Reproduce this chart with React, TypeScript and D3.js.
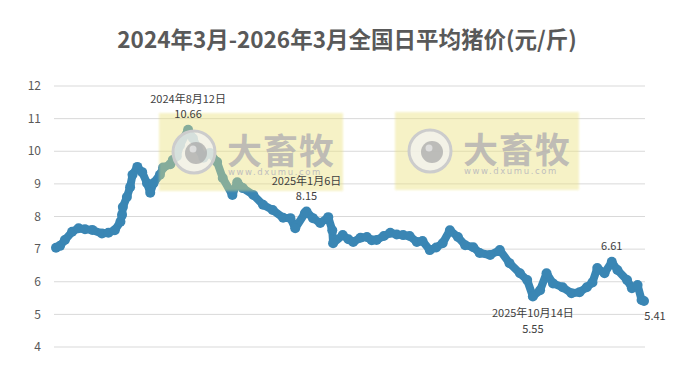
import React from "react";
import { scaleTime, scaleLinear, line, curveLinear, timeParse } from "d3";

// daily average hog price (yuan / jin)
const dates = [
  "2024-03-01", "2024-03-06", "2024-03-12", "2024-03-21", "2024-03-29", "2024-04-06",
  "2024-04-15", "2024-04-27", "2024-05-05", "2024-05-13", "2024-05-20", "2024-05-22",
  "2024-05-23", "2024-05-28", "2024-06-01", "2024-06-04", "2024-06-10", "2024-06-16",
  "2024-06-22", "2024-06-26", "2024-06-30", "2024-07-08", "2024-07-12", "2024-07-21",
  "2024-07-24", "2024-07-29", "2024-08-02", "2024-08-12", "2024-08-18", "2024-08-24",
  "2024-08-31", "2024-09-08", "2024-09-17", "2024-09-24", "2024-10-06", "2024-10-12",
  "2024-10-19", "2024-11-01", "2024-11-13", "2024-11-25", "2024-12-08", "2024-12-17",
  "2024-12-23", "2025-01-04", "2025-01-06", "2025-01-14", "2025-01-23", "2025-02-02",
  "2025-02-07", "2025-02-08", "2025-02-20", "2025-02-27", "2025-03-05", "2025-03-14",
  "2025-03-22", "2025-03-28", "2025-04-03", "2025-04-12", "2025-04-20", "2025-04-28",
  "2025-05-06", "2025-05-14", "2025-05-23", "2025-05-30", "2025-06-08", "2025-06-16",
  "2025-06-24", "2025-07-03", "2025-07-13", "2025-07-22", "2025-08-01", "2025-08-09",
  "2025-08-22", "2025-09-03", "2025-09-15", "2025-09-28", "2025-10-07", "2025-10-14",
  "2025-10-23", "2025-10-31", "2025-11-08", "2025-11-20", "2025-12-01", "2025-12-11",
  "2025-12-20", "2025-12-27", "2026-01-02", "2026-01-11", "2026-01-20", "2026-01-27",
  "2026-02-08", "2026-02-14", "2026-02-21", "2026-02-26", "2026-03-01",
];
const prices = [
  7.04, 7.1, 7.28, 7.53, 7.64, 7.61,
  7.59, 7.48, 7.5, 7.58, 7.84, 8.05,
  8.29, 8.6, 8.9, 9.28, 9.52, 9.36,
  9.02, 8.73, 9.02, 9.28, 9.5, 9.6,
  9.73, 9.85, 10.19, 10.66, 10.4, 10.1,
  9.8, 9.95, 9.67, 9.18, 8.66, 9.05,
  8.87, 8.66, 8.36, 8.2, 7.96, 7.95,
  7.64, 8.1, 8.15, 7.95, 7.8, 7.98,
  7.58, 7.18, 7.43, 7.3, 7.22, 7.35,
  7.37, 7.27, 7.28, 7.4, 7.5, 7.45,
  7.43, 7.4, 7.22, 7.25, 6.97, 7.05,
  7.18, 7.58, 7.37, 7.12, 7.06, 6.88,
  6.82, 6.97, 6.57, 6.26, 6.05, 5.55,
  5.74, 6.26, 5.95, 5.83, 5.65, 5.68,
  5.83, 5.98, 6.42, 6.26, 6.61, 6.36,
  6.05, 5.8, 5.9, 5.44, 5.41,
];
const yTicks = [4, 5, 6, 7, 8, 9, 10, 11, 12];

// annotated points and where their labels sit
const notes = [
  { date: "2024-08-12", text: "2024年8月12日", pos: "above" },
  { date: "2025-01-06", text: "2025年1月6日", pos: "above" },
  { date: "2025-10-14", text: "2025年10月14日", pos: "below" },
  { date: "2026-01-20", text: "", pos: "above" },
  { date: "2026-03-01", text: "", pos: "right" },
];

const title = "2024年3月-2026年3月全国日平均猪价(元/斤)";
const font = "'Noto Sans CJK SC', 'Noto Sans', sans-serif";
const lineColor = "#3a86b4";

const parse = timeParse("%Y-%m-%d");
const points = dates.map((d, i) => ({ date: parse(d) as Date, value: prices[i] }));

function Watermark({ x, y }: { x: number; y: number }) {
  return (
    <g transform={`translate(${x},${y})`}>
      <rect width={184} height={78} fill="#ece27a" opacity={0.42} filter="url(#soft)" />
      <circle cx={35} cy={39} r={21} fill="#f2f2f2" fillOpacity={0.75} stroke="#cccccc" strokeWidth={3} />
      <circle cx={37} cy={40} r={11} fill="#a9a9a9" opacity={0.75} />
      <circle cx={34} cy={36} r={3.5} fill="#e6e6e6" opacity={0.8} />
      <text x={68} y={51} fontSize={35} fontWeight={700} fill="#b5b2b2" fillOpacity={0.85} fontFamily={font} letterSpacing={1}>
        大畜牧
      </text>
      <text x={69} y={62} fontSize={8.5} fill="#c0bebe" fontFamily="'DejaVu Sans', sans-serif" letterSpacing={1.6}>
        www.dxumu.com
      </text>
    </g>
  );
}

export default function App() {
  const width = 684;
  const height = 367;
  const left = 54;
  const right = 645;

  const x = scaleTime()
    .domain([points[0].date, points[points.length - 1].date])
    .range([56, 644]);
  const y = scaleLinear().domain([4, 12]).range([347, 86]);

  const path = line<{ date: Date; value: number }>()
    .x((d) => x(d.date))
    .y((d) => y(d.value))
    .curve(curveLinear)(points) as string;

  return (
    <>
      <style>{`body{margin:0}`}</style>
      <svg width={width} height={height} style={{ display: "block", background: "#fff" }}>
        <defs>
          <filter id="soft" x="-5%" y="-5%" width="110%" height="110%">
            <feGaussianBlur stdDeviation={1.2} />
          </filter>
        </defs>

        <text x={347} y={48} textAnchor="middle" fontSize={22.5} fontWeight={700} fill="#595959" fontFamily={font}>
          {title}
        </text>

        {/* grid + y labels */}
        {yTicks.map((t) => (
          <g key={t}>
            <line x1={left} x2={right} y1={y(t)} y2={y(t)} stroke="#d9d9d9" strokeWidth={1} />
            <text x={41} y={y(t)} dy="0.35em" textAnchor="end" fontSize={12} fill="#595959" fontFamily={font}>
              {t}
            </text>
          </g>
        ))}

        {/* series: thick line with a marker on every sample */}
        <path d={path} fill="none" stroke={lineColor} strokeWidth={8} strokeLinejoin="round" strokeLinecap="round" />
        {points.map((p, i) => (
          <circle key={i} cx={x(p.date)} cy={y(p.value)} r={5} fill={lineColor} />
        ))}

        <Watermark x={159} y={113} />
        <Watermark x={395} y={112} />

        {/* data labels */}
        {notes.map((n) => {
          const i = dates.indexOf(n.date);
          const px = x(points[i].date);
          const py = y(points[i].value);
          const val = prices[i].toFixed(2);
          const common = { fontSize: 11, fill: "#404040", fontFamily: font, textAnchor: "middle" as const };
          if (n.pos === "right") {
            return (
              <text key={n.date} x={px + 11} y={py + 19} {...common}>
                {val}
              </text>
            );
          }
          if (n.pos === "below") {
            return (
              <g key={n.date}>
                <text x={px} y={py + 21} {...common}>{n.text}</text>
                <text x={px} y={py + 37} {...common}>{val}</text>
              </g>
            );
          }
          return (
            <g key={n.date}>
              {n.text && <text x={px} y={py - 27} {...common}>{n.text}</text>}
              <text x={px} y={py - 12} {...common}>{val}</text>
            </g>
          );
        })}
      </svg>
    </>
  );
}
